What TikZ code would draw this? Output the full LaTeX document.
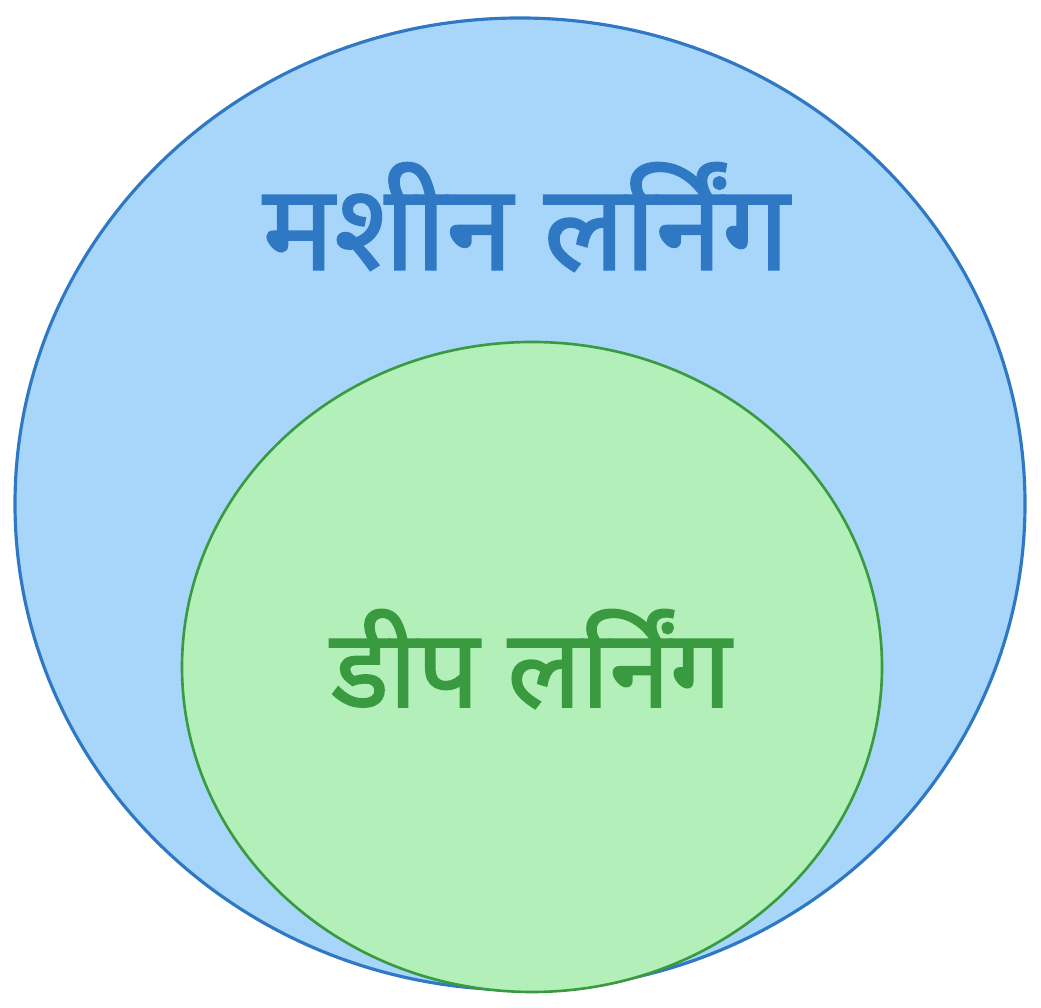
\documentclass[tikz,border=0pt]{standalone}
\usepackage{fontspec}
\newfontfamily\devfont[Script=Devanagari,FakeBold=1.6]{Noto Sans}
\definecolor{mlfill}{HTML}{A8D6FB}
\definecolor{mlline}{HTML}{2F78C4}
\definecolor{dlfill}{HTML}{B3F0B9}
\definecolor{dlline}{HTML}{3A9A40}
\tikzset{
	setml/.style = {fill=mlfill, draw=mlline, line width=1.8pt},
	setdl/.style = {fill=dlfill, draw=dlline, line width=1.5pt},
	setlabel/.style = {font=\devfont\fontsize{68}{74}\selectfont, inner sep=0pt}
}
\begin{document}
\begin{tikzpicture}
	\useasboundingbox (0,0) rectangle (20.82,20.16);
	% outer set
	\draw [setml] (10.40,10.08) ellipse [x radius=10.10cm, y radius=9.72cm];
	% inner set
	\draw [setdl] (10.64,6.82) ellipse [x radius=7.00cm, y radius=6.50cm];
	\node (ml) [setlabel, text=mlline] at (10.52,15.82) {मशीन लर्निंग};
	\node (dl) [setlabel, text=dlline, font=\devfont\fontsize{62}{68}\selectfont] at (10.62,6.98) {डीप लर्निंग};
\end{tikzpicture}
\end{document}
